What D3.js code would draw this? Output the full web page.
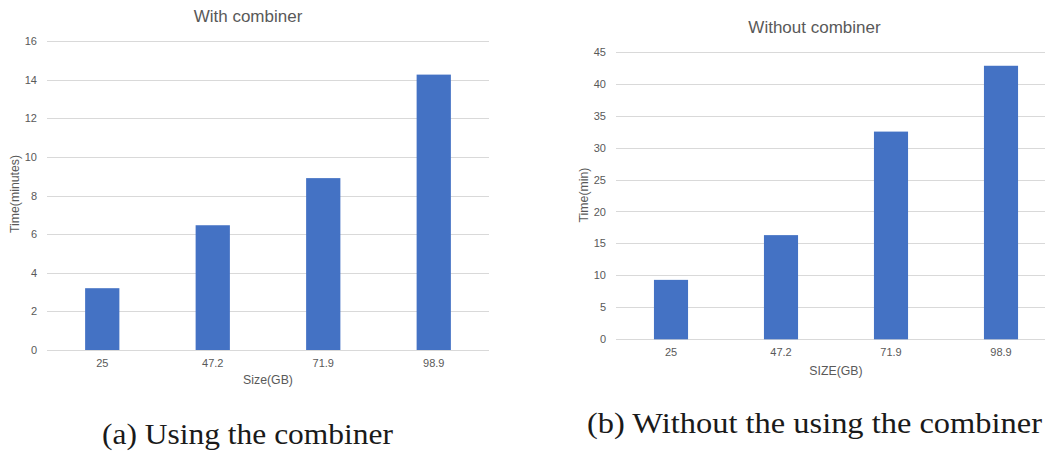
<!DOCTYPE html>
<html>
<head>
<meta charset="utf-8">
<script src="https://cdn.jsdelivr.net/npm/d3@7"></script>
<style>
  html, body { margin: 0; padding: 0; background: #fff; }
  svg { display: block; }
  text { font-family: "Liberation Sans", Arial, sans-serif; }
</style>
</head>
<body>
<svg id="chart" width="1045" height="454"></svg>
<script>
// Data
const categories = ["25", "47.2", "71.9", "98.9"];
const withCombiner = [3.2, 6.46, 8.9, 14.26];
const withoutCombiner = [9.3, 16.3, 32.5, 42.8];
const leftTicks = [0, 2, 4, 6, 8, 10, 12, 14, 16];
const rightTicks = [0, 5, 10, 15, 20, 25, 30, 35, 40, 45];
const leftTitle = "With combiner";
const rightTitle = "Without combiner";
const leftXLabel = "Size(GB)";
const rightXLabel = "SIZE(GB)";
const leftYLabel = "Time(minutes)";
const rightYLabel = "Time(min)";
const captionA = "(a) Using the combiner";
const captionB = "(b) Without the using the combiner";

const svg = d3.select("#chart");
const textColor = "#595959";
const gridColor = "#d9d9d9";
const barColor = "#4472C4";

function drawChart(cfg) {
  const g = svg.append("g");
  const x = d3.scaleBand().domain(categories)
    .range([cfg.left, cfg.right]).paddingInner(0.69).paddingOuter(0.345);
  const y = d3.scaleLinear().domain([0, cfg.max]).range([cfg.bottom, cfg.top]);

  // gridlines
  g.selectAll("line.grid").data(cfg.ticks).join("line")
    .attr("x1", cfg.left).attr("x2", cfg.right)
    .attr("y1", d => Math.round(y(d)) + 0.5).attr("y2", d => Math.round(y(d)) + 0.5)
    .attr("stroke", gridColor).attr("stroke-width", 1.2);

  // y axis labels
  const yAxis = d3.axisLeft(y).tickValues(cfg.ticks).tickSize(0).tickPadding(0);
  const ya = g.append("g").attr("transform", `translate(${cfg.yLabelX},0)`).call(yAxis);
  ya.select(".domain").remove();
  ya.selectAll("text").attr("fill", textColor).style("font-size", "11px")
    .style("font-family", '"Liberation Sans", Arial, sans-serif');

  // bars
  g.selectAll("rect").data(cfg.values).join("rect")
    .attr("x", (d, i) => x(categories[i]))
    .attr("width", x.bandwidth())
    .attr("y", d => y(d))
    .attr("height", d => y(0) - y(d))
    .attr("fill", barColor);

  // x axis labels
  const xAxis = d3.axisBottom(x).tickSize(0).tickPadding(0);
  const xa = g.append("g").attr("transform", `translate(0,${cfg.xLabelY})`).call(xAxis);
  xa.select(".domain").remove();
  xa.selectAll("text").attr("fill", textColor).attr("dy", "0").style("font-size", "11px")
    .style("font-family", '"Liberation Sans", Arial, sans-serif');

  // titles
  g.append("text").attr("x", cfg.titleX).attr("y", cfg.titleY)
    .attr("text-anchor", "middle").attr("fill", textColor)
    .style("font-size", "17px").text(cfg.title);
  g.append("text").attr("x", (cfg.left + cfg.right) / 2).attr("y", cfg.xTitleY)
    .attr("text-anchor", "middle").attr("fill", textColor)
    .style("font-size", "12.3px").text(cfg.xLabel);
  g.append("text")
    .attr("transform", `translate(${cfg.yTitleX},${cfg.yTitleY}) rotate(-90)`)
    .attr("text-anchor", "middle").attr("fill", textColor)
    .style("font-size", "12.3px").text(cfg.yLabel);
}

drawChart({
  left: 47, right: 489, top: 41, bottom: 350, max: 16,
  ticks: leftTicks, values: withCombiner,
  yLabelX: 37, xLabelY: 367,
  title: leftTitle, titleX: 248, titleY: 22,
  xLabel: leftXLabel, xTitleY: 384,
  yLabel: leftYLabel, yTitleX: 19, yTitleY: 194
});

drawChart({
  left: 616, right: 1056, top: 51.7, bottom: 339.3, max: 45,
  ticks: rightTicks, values: withoutCombiner,
  yLabelX: 606, xLabelY: 356,
  title: rightTitle, titleX: 814.5, titleY: 32.5,
  xLabel: rightXLabel, xTitleY: 374.5,
  yLabel: rightYLabel, yTitleX: 587.5, yTitleY: 195
});

// captions
svg.append("text").attr("x", 102).attr("y", 444)
  .attr("textLength", 291).attr("lengthAdjust", "spacingAndGlyphs")
  .style("font-family", '"Liberation Serif", "Times New Roman", serif')
  .style("font-size", "29px").attr("fill", "#1a1a1a").text(captionA);
svg.append("text").attr("x", 587).attr("y", 433)
  .attr("textLength", 455).attr("lengthAdjust", "spacingAndGlyphs")
  .style("font-family", '"Liberation Serif", "Times New Roman", serif')
  .style("font-size", "29px").attr("fill", "#1a1a1a").text(captionB);
</script>
</body>
</html>
